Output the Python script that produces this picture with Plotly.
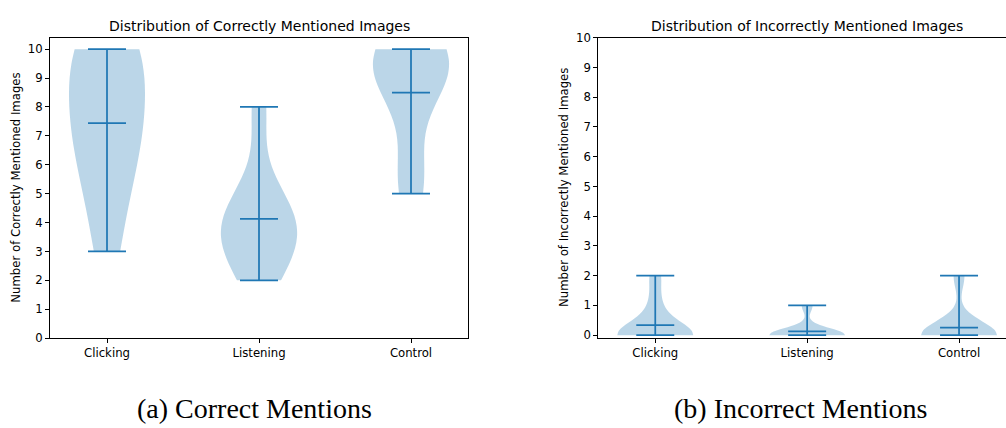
import numpy as np
import plotly.graph_objects as go

W, H = 1006, 428

categories = ["Clicking", "Listening", "Control"]
positions = [1, 2, 3]

# Correctly mentioned images per participant
correct_clicking = [3, 5, 6, 7, 8, 8, 10, 10, 10]
correct_listening = [2, 3, 3, 4, 4, 4, 5, 8]
correct_control = [5, 6, 9, 9, 9, 10, 10, 10]

# Incorrectly mentioned images per participant
incorrect_clicking = [0, 0, 0, 0, 0, 0, 0, 1, 2]
incorrect_listening = [0, 0, 0, 0, 0, 0, 0, 1]
incorrect_control = [0, 0, 0, 0, 0, 0, 0, 2]

y_ticks = list(range(0, 11))

titles = ["Distribution of Correctly Mentioned Images",
          "Distribution of Incorrectly Mentioned Images"]
ylabels = ["Number of Correctly Mentioned Images",
           "Number of Incorrectly Mentioned Images"]
captions = ["(a) Correct Mentions", "(b) Incorrect Mentions"]

BLUE = "#1f77b4"
FILL = "rgba(31,119,180,0.3)"
VIOLIN_W = 0.5

fig = go.Figure()


def add_group(datasets, xa, ya):
    xs, ys = [], []
    for pos, d in zip(positions, datasets):
        arr = np.asarray(d, dtype=float)
        bw = float(np.std(arr, ddof=1) * len(arr) ** (-0.2))
        fig.add_trace(go.Violin(
            x=[pos] * len(arr), y=arr, xaxis=xa, yaxis=ya,
            width=VIOLIN_W, scalemode="width", spanmode="hard",
            bandwidth=bw, points=False, box_visible=False,
            meanline_visible=False, fillcolor=FILL,
            line=dict(color="rgba(31,119,180,0)", width=0),
            hoverinfo="skip", showlegend=False, side="both",
        ))
        lo, hi, mu = arr.min(), arr.max(), arr.mean()
        c = VIOLIN_W / 4
        xs += [pos, pos, None]
        ys += [lo, hi, None]
        for v in (lo, hi, mu):
            xs += [pos - c, pos + c, None]
            ys += [v, v, None]
    fig.add_trace(go.Scatter(x=xs, y=ys, mode="lines", xaxis=xa, yaxis=ya,
                             line=dict(color=BLUE, width=1.75),
                             hoverinfo="skip", showlegend=False))


add_group([correct_clicking, correct_listening, correct_control], "x", "y")
add_group([incorrect_clicking, incorrect_listening, incorrect_control], "x2", "y2")

tick_font = dict(family="DejaVu Sans", size=11.7, color="black")
axis_common = dict(showline=True, linecolor="black", linewidth=1,
                   ticks="outside", ticklen=4, tickwidth=1, tickcolor="black",
                   showgrid=False, zeroline=False, tickfont=tick_font)

# pixel geometry of the two axes frames
L1, R1 = 50, 468
L2, R2_full = 598.3, 1016
TOP, BOT1, BOT2 = 31.7, 342.3, 342.3
x_lo, x_hi = 0.625, 3.375
x2_hi = x_lo + (x_hi - x_lo) * (W - L2) / (R2_full - L2)

fig.update_layout(
    width=W, height=H, margin=dict(l=0, r=0, t=0, b=0),
    paper_bgcolor="white", plot_bgcolor="white", violinmode="overlay",
    xaxis=dict(domain=[L1 / W, R1 / W], range=[x_lo, x_hi],
               tickvals=positions, ticktext=categories, mirror=True,
               anchor="y", **axis_common),
    yaxis=dict(domain=[1 - BOT1 / H, 1 - TOP / H], range=[0, 10.4],
               tickvals=y_ticks, mirror=True, anchor="x", **axis_common),
    xaxis2=dict(domain=[L2 / W, 1.0], range=[x_lo, x2_hi],
                tickvals=positions, ticktext=categories, mirror=True,
                anchor="y2", **axis_common),
    yaxis2=dict(domain=[1 - BOT2 / H, 1 - TOP / H], range=[-0.1, 10],
                tickvals=y_ticks, mirror=False, anchor="x2", **axis_common),
)

annos = []
title_x = [(L1 + R1) / 2, (L2 + R2_full) / 2]
ylabel_x = [16, 563.3]
caption_x = [254, 800]
for i in range(2):
    annos.append(dict(text=titles[i], x=title_x[i] / W, y=1 - 20 / H,
                      xref="paper", yref="paper", showarrow=False,
                      xanchor="center", yanchor="middle",
                      font=dict(family="DejaVu Sans", size=14, color="black")))
    annos.append(dict(text=ylabels[i], x=ylabel_x[i] / W, y=1 - 186.8 / H,
                      xref="paper", yref="paper", showarrow=False,
                      xanchor="center", yanchor="middle", textangle=-90,
                      font=dict(family="DejaVu Sans", size=11.7, color="black")))
    annos.append(dict(text=captions[i], x=caption_x[i] / W, y=1 - 415 / H,
                      xref="paper", yref="paper", showarrow=False,
                      xanchor="center", yanchor="middle",
                      font=dict(family="Liberation Serif", size=28, color="black")))
fig.update_layout(annotations=annos)

fig.write_html("out.html")
